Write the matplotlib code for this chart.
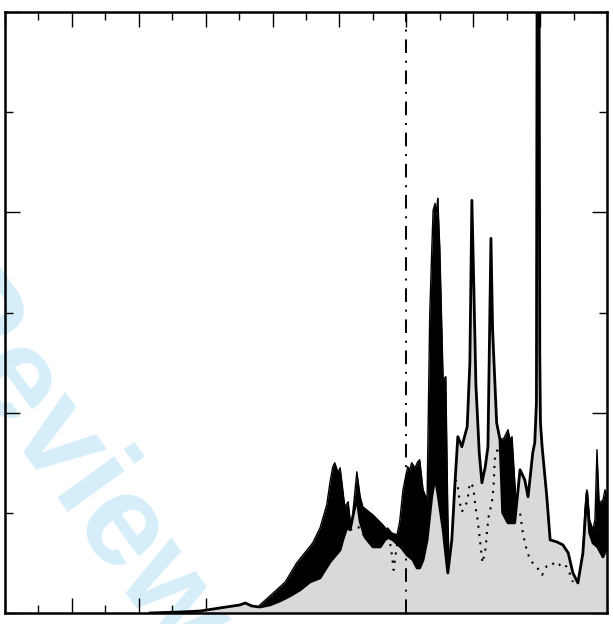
import numpy as np
import matplotlib
matplotlib.use('Agg')
import matplotlib.pyplot as plt
from matplotlib.ticker import MultipleLocator

# lower envelope (grey filled area, solid black outline)
x_low = [2.17, 2.62, 2.92, 3.21, 3.51, 3.59, 3.69, 3.81, 3.96, 4.11, 4.26, 4.41,
         4.56, 4.71, 4.86, 5.01, 5.05, 5.11, 5.16, 5.20, 5.26, 5.31, 5.38, 5.50,
         5.61, 5.71, 5.80, 5.93, 6.01, 6.10, 6.16, 6.20, 6.25, 6.31, 6.38, 6.43,
         6.47, 6.55, 6.62, 6.68, 6.73, 6.77, 6.83, 6.91, 6.95, 6.98, 7.01, 7.04,
         7.09, 7.13, 7.18, 7.22, 7.265, 7.29, 7.35, 7.40, 7.44, 7.52, 7.62, 7.70,
         7.77, 7.82, 7.89, 7.92, 7.945, 7.955, 7.985, 7.995, 8.005, 8.03, 8.10,
         8.15, 8.25, 8.34, 8.42, 8.49, 8.565, 8.64, 8.70, 8.74, 8.79, 8.86, 8.94, 9.0]
y_low = [0.0, 0.01, 0.02, 0.05, 0.08, 0.10, 0.07, 0.06, 0.08, 0.12, 0.17, 0.23,
         0.31, 0.35, 0.51, 0.63, 0.73, 0.85, 0.83, 0.96, 1.15, 0.91, 0.76, 0.66,
         0.66, 0.76, 0.73, 0.65, 0.58, 0.53, 0.45, 0.45, 0.53, 0.73, 1.16, 1.36,
         1.20, 0.83, 0.40, 0.73, 1.33, 1.76, 1.66, 1.86, 2.50, 4.12, 3.22, 2.28,
         1.60, 1.30, 1.46, 1.66, 3.74, 2.82, 1.90, 1.73, 1.00, 0.90, 0.90, 1.43,
         1.33, 1.16, 1.60, 1.70, 2.10, 6.5, 6.5, 2.60, 1.90, 1.66, 1.16,
         0.73, 0.71, 0.68, 0.60, 0.40, 0.30, 0.60, 1.20, 0.80, 0.70, 0.66, 0.56, 0.66]

# upper envelope of the black band, three pieces
x_up1 = [3.81, 4.01, 4.19, 4.36, 4.60, 4.71, 4.81, 4.86, 4.90, 4.93, 4.98, 5.01,
         5.05, 5.08, 5.13, 5.16, 5.19, 5.26, 5.31, 5.35, 5.50, 5.65, 5.71, 5.72,
         5.78, 5.86, 5.90, 5.95, 5.98, 6.02, 6.05, 6.08, 6.13, 6.17, 6.20, 6.25,
         6.31, 6.35, 6.38, 6.40, 6.43, 6.44, 6.46, 6.47, 6.50, 6.55, 6.59, 6.62, 6.64]
y_up1 = [0.08, 0.20, 0.31, 0.50, 0.70, 0.85, 1.08, 1.31, 1.46, 1.50, 1.40, 1.45,
         1.23, 1.06, 1.11, 0.93, 0.93, 1.41, 1.16, 1.06, 0.98, 0.88, 0.83, 0.85,
         0.80, 0.78, 0.91, 1.23, 1.33, 1.46, 1.43, 1.50, 1.45, 1.51, 1.53, 1.23,
         1.13, 2.99, 3.62, 4.02, 4.09, 3.97, 4.07, 4.14, 3.65, 2.33, 2.36, 1.00, 0.45]
x_up2 = [7.35, 7.40, 7.44, 7.47, 7.52, 7.55, 7.58, 7.61, 7.65, 7.70]
y_up2 = [1.90, 1.75, 1.73, 1.76, 1.83, 1.73, 1.76, 1.43, 1.00, 1.43]
x_up3 = [8.64, 8.67, 8.70, 8.74, 8.79, 8.82, 8.85, 8.88, 8.89, 8.94, 8.97, 9.00]
y_up3 = [0.60, 1.03, 1.23, 0.93, 0.83, 0.93, 1.63, 1.13, 1.10, 1.13, 1.23, 1.18]

# dotted curve (nan = break)
x_dot = [5.16, 5.28, 5.38, 5.50, 5.61, 5.71, 5.75, 5.78, 5.81, 5.83, 5.86, 5.88, np.nan,
         6.73, 6.76, 6.80, 6.83, 6.91, 6.95, 7.00, 7.03, 7.07, 7.10, 7.13, 7.14, 7.19,
         7.20, 7.23, 7.26, 7.29, 7.31, 7.32, 7.35, 7.37, 7.43, 7.55, 7.70, 7.74, 7.77,
         7.80, 7.85, 7.89, 7.95, 8.03, 8.10, 8.18, 8.25, 8.33, 8.40, 8.44, 8.49]
y_dot = [0.83, 0.86, 0.76, 0.66, 0.66, 0.74, 0.73, 0.60, 0.43, 0.53, 0.68, 0.72, np.nan,
         1.33, 1.31, 1.10, 1.01, 1.11, 1.30, 1.26, 1.08, 0.91, 0.73, 0.55, 0.50, 0.66,
         0.78, 0.96, 1.05, 1.15, 1.33, 1.53, 1.60, 1.66, 1.56, 1.00, 1.00, 0.81, 0.71,
         0.63, 0.53, 0.50, 0.46, 0.38, 0.47, 0.50, 0.46, 0.50, 0.46, 0.40, 0.31]

x_mark = 6.0

fig = plt.figure(figsize=(6.13, 6.24), dpi=100)
ax = fig.add_axes([5/613, 11/624, 602/613, 601/624])
ax.set_facecolor('none')

# watermark behind everything
fig.text(-235/613, (624-97)/624, 'For Review Only', rotation=-54,
         rotation_mode='anchor', ha='left', va='baseline', fontsize=94,
         family='Liberation Sans', weight='bold', color='#d5eefa', zorder=-1)

for xs, ys in [(x_up1, y_up1), (x_up2, y_up2), (x_up3, y_up3)]:
    ax.fill_between(xs, 0, ys, color='black', lw=0, zorder=1)
    ax.plot(xs, ys, color='black', lw=1.0, zorder=2)
ax.fill_between(x_low, 0, y_low, color='#d9d9d9', lw=0, zorder=3)
ax.plot(x_low, y_low, color='black', lw=2.0, zorder=5)
ax.plot(x_dot, y_dot, color='black', lw=1.5, ls=(0, (1, 3)), zorder=4)
ax.axvline(x_mark, color='black', lw=1.4, ls=(0, (7, 4, 1, 4)), zorder=6)

ax.set_xlim(0, 9)
ax.set_ylim(0, 6)
ax.xaxis.set_major_locator(MultipleLocator(1))
ax.xaxis.set_minor_locator(MultipleLocator(0.5))
ax.yaxis.set_major_locator(MultipleLocator(2))
ax.yaxis.set_minor_locator(MultipleLocator(1))
ax.tick_params(which='both', direction='in', top=True, right=True,
               labelbottom=False, labelleft=False, width=1.0)
ax.tick_params(which='major', length=10.8)
ax.tick_params(which='minor', length=5.5)
for s in ax.spines.values():
    s.set_linewidth(1.8)
    s.set_zorder(7)

fig.savefig('out.png', dpi=100, facecolor='white')
